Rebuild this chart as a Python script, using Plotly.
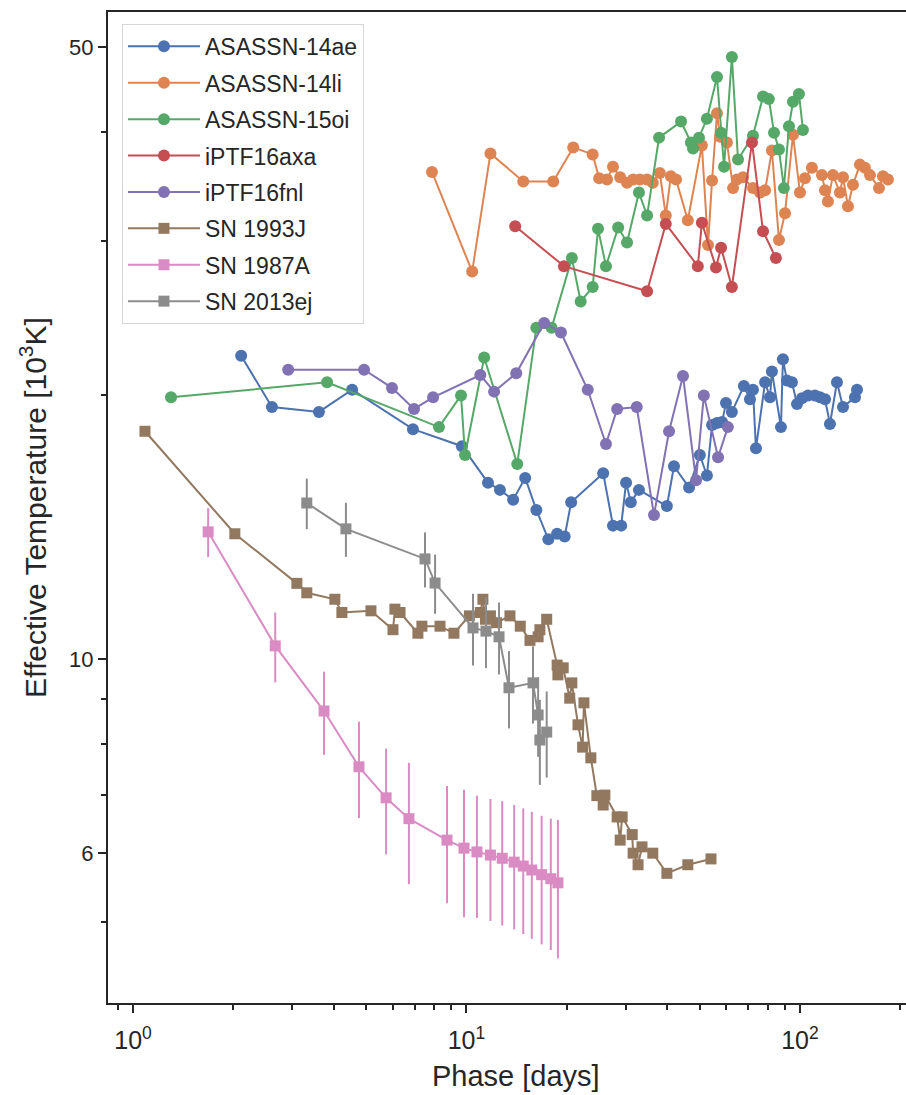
import plotly.graph_objects as go

# ---------------- data (phase in days, temperature in 10^3 K) ----------------
names = ["ASASSN-14ae", "ASASSN-14li", "ASASSN-15oi", "iPTF16axa", "iPTF16fnl",
         "SN 1993J", "SN 1987A", "SN 2013ej"]

asassn14ae_phase = [2.11, 2.61, 3.61, 4.54, 6.91, 9.69, 11.6, 12.6, 13.8, 15.0, 16.2, 17.6, 18.7,
                    19.7, 20.6, 25.7, 27.5, 29.1, 30.1, 31.1, 32.9, 39.9, 41.9, 46.5, 50.1, 52.6,
                    54.5, 56.4, 58.4, 60.0, 62.5, 67.9, 70.8, 72.3, 73.8, 78.6, 81.3, 82.4, 87.7,
                    88.9, 91.4, 94.6, 98.0, 101.4, 105.7, 110.9, 114.8, 118.9, 123.0, 129.1,
                    134.6, 146.2, 148.3]
asassn14ae_temp = [22.2, 19.4, 19.15, 20.3, 18.3, 17.5, 15.9, 15.6, 15.2, 16.1, 14.8, 13.7, 13.9,
                   13.8, 15.1, 16.3, 14.2, 14.2, 15.9, 15.1, 15.6, 14.95, 16.6, 15.7, 17.1, 16.2,
                   18.5, 18.6, 18.65, 19.6, 19.15, 20.5, 19.8, 20.3, 17.4, 20.7, 19.9, 21.3, 18.4,
                   22.0, 20.8, 20.7, 19.55, 19.85, 20.0, 20.0, 19.9, 19.8, 18.55, 20.7,
                   19.4, 19.9, 20.3]

asassn14li_phase = [7.88, 10.4, 11.8, 14.8, 18.2, 20.9, 23.9, 25.0, 26.4, 27.5, 28.9, 30.3, 31.6,
                    33.1, 34.8, 36.2, 38.0, 39.6, 41.0, 42.5, 46.1, 50.8, 53.0, 54.5, 56.4, 57.6,
                    60.4, 63.0, 64.7, 67.5, 72.3, 75.9, 78.6, 82.4, 86.5, 90.2, 95.3, 100.0,
                    103.5, 108.6, 116.4, 118.9, 121.3, 125.6, 131.8, 134.6, 139.3, 144.2, 151.3,
                    156.6, 162.2, 172.6, 177.4, 183.6]
asassn14li_temp = [36.0, 27.7, 37.8, 35.1, 35.1, 38.4, 37.7, 35.4, 35.3, 36.5, 35.5, 35.0, 35.3,
                   35.3, 35.3, 35.0, 35.9, 32.1, 35.6, 35.3, 31.7, 38.6, 29.7, 35.2, 42.0, 39.5,
                   38.9, 34.5, 35.3, 35.5, 34.5, 34.1, 34.3, 38.1, 30.1, 32.3, 39.7, 34.1,
                   35.4, 36.4, 35.7, 34.3, 33.3, 35.7, 34.1, 35.5, 32.9, 34.8, 36.7,
                   36.4, 35.7, 34.5, 35.6, 35.3]

asassn15oi_phase = [1.30, 3.82, 8.27, 9.63, 9.90, 11.3, 14.2, 16.2, 18.0, 20.7, 22.0, 23.9, 24.8,
                    26.2, 28.5, 30.3, 32.9, 34.8, 37.8, 44.0, 47.1, 47.8, 49.8, 52.6, 56.4, 58.0,
                    59.2, 62.5, 65.2, 72.3, 77.5, 80.7, 83.6, 86.5, 89.5, 92.7, 95.3, 99.3, 102.1]
asassn15oi_temp = [19.9, 20.7, 18.4, 20.0, 17.1, 22.1, 16.7, 23.9, 23.9, 28.7, 25.6, 26.6, 31.0,
                   28.1, 31.1, 29.9, 34.1, 32.1, 39.4, 41.1, 38.9, 38.3, 39.4, 41.4, 46.2, 39.9,
                   36.5, 48.7, 37.2, 39.6, 43.9, 43.6, 39.9, 38.2, 34.5, 40.6, 43.3, 44.2, 40.2]

iptf16axa_phase = [14.0, 19.6, 34.8, 39.6, 49.4, 50.8, 56.0, 58.0, 62.5, 71.8, 77.5, 84.7]
iptf16axa_temp = [31.2, 28.1, 26.3, 31.4, 28.1, 31.5, 28.0, 29.5, 26.6, 38.9, 30.8, 28.7]

iptf16fnl_phase = [2.92, 4.93, 5.98, 6.96, 7.94, 11.0, 12.1, 14.1, 17.1, 19.2, 23.1, 26.2, 28.3,
                   32.4, 36.5, 40.5, 44.6, 48.8, 51.5, 56.8, 60.8]
iptf16fnl_temp = [21.4, 21.4, 20.4, 19.3, 19.9, 21.1, 20.2, 21.2, 24.2, 23.6, 20.3, 17.6, 19.3,
                  19.4, 14.6, 18.2, 21.05, 16.0, 20.0, 17.0, 18.4]

sn1993j_phase = [1.086, 2.02, 3.10, 3.32, 4.03, 4.23, 5.17, 6.02, 6.10, 6.32, 7.15, 7.35, 8.33,
                 9.17, 10.2, 11.0, 11.2, 11.4, 11.8, 12.3, 13.5, 14.5, 15.5, 16.4, 16.6, 17.4,
                 18.7, 18.8, 19.5, 20.4, 20.7, 21.6, 22.3, 22.5, 23.6, 24.6, 25.7, 26.0, 28.3,
                 28.9, 29.3, 31.4, 31.6, 32.7, 33.6, 36.2, 39.9, 46.1, 54.1]
sn1993j_temp = [18.2, 13.9, 12.2, 11.9, 11.7, 11.3, 11.35, 10.8, 11.4, 11.3, 10.7, 10.9, 10.9,
                10.7, 11.2, 11.3, 11.7, 11.1, 11.2, 11.0, 11.2, 10.9, 10.5, 10.6, 10.8, 11.1,
                9.84, 9.59, 9.77, 9.02, 9.39, 8.41, 7.93, 8.91, 7.71, 6.98, 6.81, 6.99, 6.60,
                6.21, 6.60, 6.30, 6.0, 5.82, 6.10, 6.0, 5.69, 5.82, 5.91]

sn1987a_phase = [1.68, 2.67, 3.74, 4.76, 5.74, 6.72, 8.74, 9.83, 10.75, 11.8, 12.8, 13.9, 14.8,
                 15.7, 16.8, 17.9, 18.8]
sn1987a_temp = [13.97, 10.35, 8.72, 7.53, 6.94, 6.57, 6.21, 6.08, 6.02, 5.97, 5.92, 5.86, 5.80,
                5.74, 5.67, 5.61, 5.55]
sn1987a_err = [0.9, 0.95, 0.95, 0.95, 0.96, 1.04, 0.95, 1.01, 0.96, 0.95, 0.96, 0.95, 0.95,
               0.95, 0.95, 0.96, 1.0]

sn2013ej_phase = [3.32, 4.35, 7.51, 8.05, 10.46, 11.44, 12.52, 13.41, 15.83, 16.4, 16.6, 17.4]
sn2013ej_temp = [15.07, 14.08, 13.01, 12.21, 10.85, 10.76, 10.6, 9.27, 9.39, 8.63, 8.08, 8.25]
sn2013ej_err = [1.0, 1.0, 0.94, 0.95, 1.02, 1.0, 1.0, 0.94, 0.95, 0.9, 0.9, 0.93]

x_major_ticks = [1, 10, 100]
x_major_labels = ["10<sup>0</sup>", "10<sup>1</sup>", "10<sup>2</sup>"]
x_minor_ticks = [0.9, 2, 3, 4, 5, 6, 7, 8, 9, 20, 30, 40, 50, 60, 70, 80, 90, 200]
y_major_ticks = [6, 10, 50]
y_major_labels = ["6", "10", "50"]
y_minor_ticks = [5, 7, 8, 9, 20, 30, 40]
x_title = "Phase [days]"
y_title = "Effective Temperature [10<sup>3</sup>K]"

colors = ["#4C72B0", "#DD8452", "#55A868", "#C44E52", "#8172B3", "#937860", "#DA8BC3", "#8C8C8C"]

series = [
    (asassn14ae_phase, asassn14ae_temp, None, "circle"),
    (asassn14li_phase, asassn14li_temp, None, "circle"),
    (asassn15oi_phase, asassn15oi_temp, None, "circle"),
    (iptf16axa_phase, iptf16axa_temp, None, "circle"),
    (iptf16fnl_phase, iptf16fnl_temp, None, "circle"),
    (sn1993j_phase, sn1993j_temp, None, "square"),
    (sn1987a_phase, sn1987a_temp, sn1987a_err, "square"),
    (sn2013ej_phase, sn2013ej_temp, sn2013ej_err, "square"),
]

FONT = "Liberation Sans, Arial, sans-serif"
TXT = "#262626"

fig = go.Figure()
for i, (name, (xs, ys, err, sym), col) in enumerate(zip(names, series, colors)):
    kw = {}
    if err is not None:
        kw["error_y"] = dict(type="data", array=err, visible=True, color=col,
                             thickness=2, width=0)
    fig.add_trace(go.Scatter(
        x=xs, y=ys, name=name, mode="lines+markers",
        line=dict(color=col, width=2),
        marker=dict(symbol=sym, size=12 if sym == "circle" else 11, color=col,
                    line=dict(width=0)),
        legendgroup=f"g{i}",
        **kw))

fig.update_layout(
    width=906, height=1095,
    margin=dict(l=108, r=0, t=12, b=92),
    paper_bgcolor="white", plot_bgcolor="white",
    font=dict(family=FONT, color=TXT, size=22),
    showlegend=True,
    legend=dict(x=0.0175, y=0.988, xanchor="left", yanchor="top",
                bgcolor="rgba(255,255,255,0.85)", bordercolor="#d6d6d6", borderwidth=1,
                font=dict(family=FONT, size=23, color=TXT),
                traceorder="grouped", tracegroupgap=3.5, itemwidth=72,
                entrywidth=175, entrywidthmode="pixels"),
    xaxis=dict(type="log", range=[-0.075, 2.318],
               tickmode="array", tickvals=x_major_ticks, ticktext=x_major_labels,
               ticks="outside", ticklen=8, tickwidth=2, tickcolor=TXT,
               ticklabelstandoff=6,
               minor=dict(tickmode="array", tickvals=x_minor_ticks, ticks="outside",
                          ticklen=5, tickwidth=1.5, tickcolor=TXT, showgrid=False),
               showline=True, linecolor=TXT, linewidth=2, mirror=True,
               showgrid=False, zeroline=False,
               tickfont=dict(size=25, family=FONT, color=TXT)),
    yaxis=dict(type="log", range=[0.607, 1.739],
               tickmode="array", tickvals=y_major_ticks, ticktext=y_major_labels,
               ticks="outside", ticklen=8, tickwidth=2, tickcolor=TXT,
               minor=dict(tickmode="array", tickvals=y_minor_ticks, ticks="outside",
                          ticklen=5, tickwidth=1.5, tickcolor=TXT, showgrid=False),
               showline=True, linecolor=TXT, linewidth=2, mirror=False,
               showgrid=False, zeroline=False,
               tickfont=dict(size=22, family=FONT, color=TXT),
               title=dict(text=y_title,
                          font=dict(size=30, family=FONT, color=TXT), standoff=14)),
    annotations=[dict(text=x_title, xref="paper", yref="paper", x=0.511, y=-0.0735,
                      xanchor="center", yanchor="middle", showarrow=False,
                      font=dict(size=29, family=FONT, color=TXT))],
)

fig.write_html("out.html")
